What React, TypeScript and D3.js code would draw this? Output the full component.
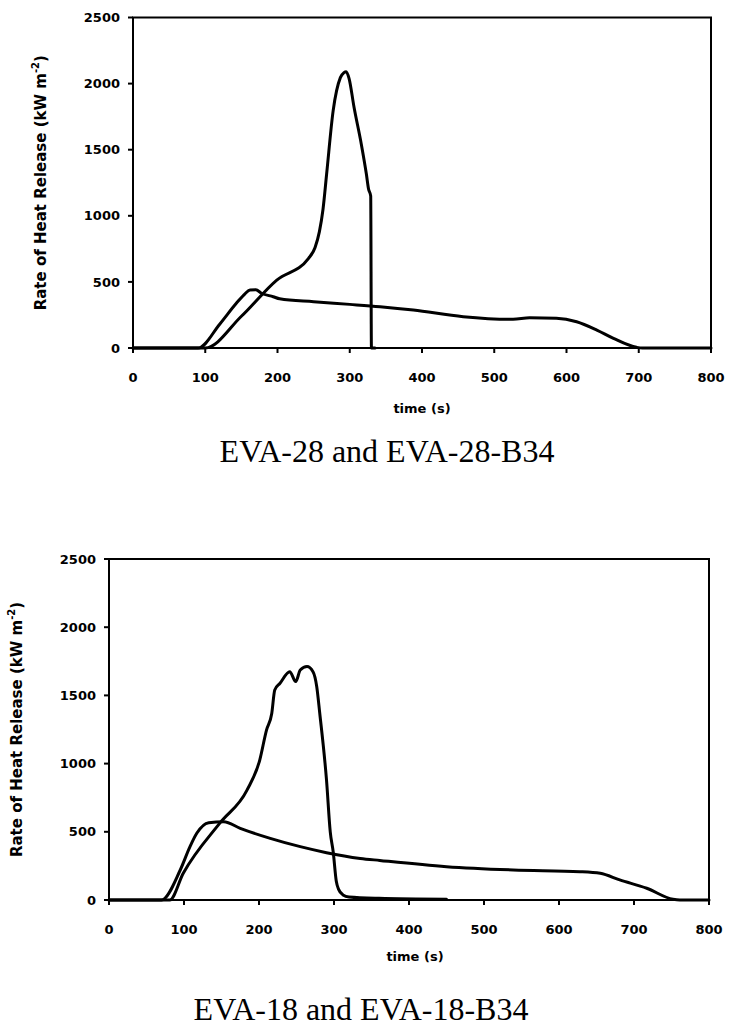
import React from 'react';
import * as d3 from 'd3';

const xTickValues = [0, 100, 200, 300, 400, 500, 600, 700, 800];
const yTickValues = [0, 500, 1000, 1500, 2000, 2500];

const titleTop = 'EVA-28 and EVA-28-B34';
const titleBottom = 'EVA-18 and EVA-18-B34';
const xLabel = 'time (s)';
const yLabelMain = 'Rate of Heat Release (kW m';
const yLabelSup = '-2';

// EVA-28 (sharp peak)
const eva28Time = [0, 100, 150, 199, 243, 252, 258, 263, 268, 277, 287, 292, 295, 299, 306, 316, 323, 326, 329, 330, 335];
const eva28Hrr = [0, 0, 240, 514, 678, 760, 880, 1050, 1316, 1794, 2045, 2083, 2090, 2040, 1819, 1542, 1316, 1203, 1150, 0, 0];

// EVA-28-B34 (low, long)
const eva28b34Time = [0, 90, 120, 143, 155, 162, 170, 178, 194, 203, 250, 300, 342, 388, 457, 526, 549, 586, 614, 642, 665, 697, 705, 800];
const eva28b34Hrr = [0, 0, 180, 338, 410, 439, 440, 414, 388, 372, 350, 330, 312, 287, 237, 217, 228, 225, 199, 136, 73, 5, 0, 0];

// EVA-18 (peak)
const eva18Time = [0, 81, 99, 148, 184, 201, 210, 217, 221, 228, 241, 249, 255, 264, 272, 277, 281, 290, 295, 299, 303, 306, 312, 320, 360, 450];
const eva18Hrr = [0, 0, 196, 565, 806, 1026, 1246, 1368, 1540, 1589, 1674, 1601, 1686, 1711, 1674, 1564, 1369, 880, 500, 350, 140, 80, 37, 22, 12, 5];

// EVA-18-B34 (low, long)
const eva18b34Time = [0, 70, 95, 108, 117, 133, 153, 175, 215, 255, 290, 335, 361, 450, 539, 628, 655, 681, 717, 752, 761, 800];
const eva18b34Hrr = [0, 0, 220, 391, 489, 567, 574, 525, 452, 391, 347, 305, 290, 244, 220, 208, 196, 147, 86, 5, 0, 0];

type Series = { t: number[]; v: number[] };

type PanelProps = {
  left: number; right: number; top: number; bottom: number;
  series: Series[];
  title: string;
  titleX: number; titleY: number;
  xLabelX: number; xLabelY: number;
  yLabelX: number;
};

const sans = '"DejaVu Sans", Verdana, sans-serif';

function Panel(p: PanelProps) {
  const x = d3.scaleLinear().domain([0, 800]).range([p.left, p.right]);
  const y = d3.scaleLinear().domain([0, 2500]).range([p.bottom, p.top]);
  const line = d3.line<[number, number]>().x(d => x(d[0])).y(d => y(d[1])).curve(d3.curveMonotoneX);
  const yMid = (p.top + p.bottom) / 2;
  return (
    <g>
      {p.series.map((s, i) => (
        <path key={i} d={line(s.t.map((t, j) => [t, s.v[j]] as [number, number])) || ''}
          fill="none" stroke="#000" strokeWidth={3} strokeLinejoin="round" strokeLinecap="round" />
      ))}
      <rect x={p.left} y={p.top} width={p.right - p.left} height={p.bottom - p.top}
        fill="none" stroke="#000" strokeWidth={2} />
      {yTickValues.map(v => (
        <g key={'y' + v}>
          <line x1={p.left - 5} x2={p.left} y1={y(v)} y2={y(v)} stroke="#000" strokeWidth={2} />
          <text x={p.left - 13} y={y(v)} dy="0.36em" textAnchor="end" fontFamily={sans}
            fontWeight="bold" fontSize={13}>{v}</text>
        </g>
      ))}
      {xTickValues.map(t => (
        <g key={'x' + t}>
          <line x1={x(t)} x2={x(t)} y1={p.bottom} y2={p.bottom + 5} stroke="#000" strokeWidth={2} />
          <text x={x(t)} y={p.bottom + 34} textAnchor="middle" fontFamily={sans}
            fontWeight="bold" fontSize={13}>{t}</text>
        </g>
      ))}
      <text x={p.xLabelX} y={p.xLabelY} textAnchor="middle" fontFamily={sans}
        fontWeight="bold" fontSize={13}>{xLabel}</text>
      <text transform={`translate(${p.yLabelX},${yMid}) rotate(-90)`} textAnchor="middle"
        fontFamily={sans} fontWeight="bold" fontSize={15}>
        {yLabelMain}
        <tspan dy={-7} fontSize={10}>{yLabelSup}</tspan>
        <tspan dy={7}>)</tspan>
      </text>
      <text x={p.titleX} y={p.titleY} textAnchor="middle"
        fontFamily='"Liberation Serif", "Times New Roman", serif' fontSize={32}>{p.title}</text>
    </g>
  );
}

export default function App() {
  return (
    <svg width={733} height={1027} style={{ position: 'absolute', left: 0, top: 0, background: '#fff' }}>
      <rect x={0} y={0} width={733} height={1027} fill="#fff" />
      <Panel left={133} right={711} top={17.5} bottom={348}
        series={[{ t: eva28Time, v: eva28Hrr }, { t: eva28b34Time, v: eva28b34Hrr }]}
        title={titleTop} titleX={387} titleY={462}
        xLabelX={422} xLabelY={413} yLabelX={46} />
      <Panel left={109} right={709} top={559} bottom={900}
        series={[{ t: eva18Time, v: eva18Hrr }, { t: eva18b34Time, v: eva18b34Hrr }]}
        title={titleBottom} titleX={361} titleY={1020}
        xLabelX={415} xLabelY={961} yLabelX={22} />
    </svg>
  );
}
